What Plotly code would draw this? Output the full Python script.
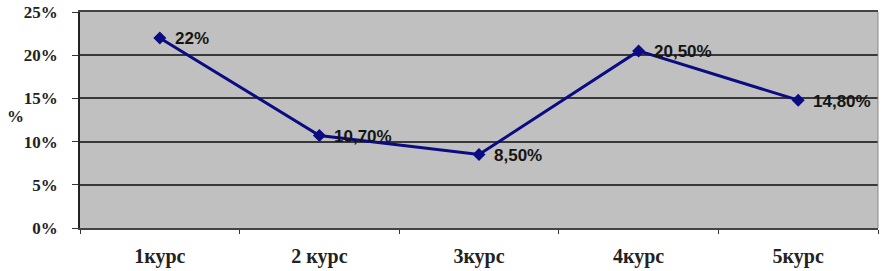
import plotly.graph_objects as go

categories = ["1курс", "2 курс", "3курс", "4курс", "5курс"]
values = [0.22, 0.107, 0.085, 0.205, 0.148]
labels = ["22%", "10,70%", "8,50%", "20,50%", "14,80%"]
y_ticks = [0, 0.05, 0.10, 0.15, 0.20, 0.25]
y_tick_text = ["0%", "5%", "10%", "15%", "20%", "25%"]

navy = "#0b0b82"

fig = go.Figure()
fig.add_trace(go.Scatter(
    x=categories, y=values,
    mode="lines+markers",
    line=dict(color=navy, width=3),
    marker=dict(symbol="diamond", size=10, color=navy),
    cliponaxis=False,
))

annotations = []
for c, v, t in zip(categories, values, labels):
    annotations.append(dict(
        x=c, y=v, xref="x", yref="y", text=t, showarrow=False,
        xanchor="left", yanchor="middle", xshift=13, yshift=-1,
        font=dict(family="Liberation Sans", size=17, color="#151515", weight="bold"),
    ))
annotations.append(dict(
    text="%", xref="paper", yref="paper", x=-0.094, y=0.515,
    xanchor="left", yanchor="middle", showarrow=False,
    font=dict(family="Liberation Serif", size=17, color="#222222", weight="bold"),
))

fig.update_layout(
    width=881, height=271,
    margin=dict(l=80, r=3, t=7, b=41),
    paper_bgcolor="white",
    plot_bgcolor="#c0c0c0",
    showlegend=False,
    xaxis=dict(
        type="category", tickson="boundaries", ticks="outside", ticklen=4,
        tickcolor="#333333", showgrid=False, showline=True, linecolor="#444444",
        linewidth=2, mirror=True, range=[-0.5, 4.5],
        tickfont=dict(family="Liberation Serif", size=20, color="#222222", weight="bold"),
        ticklabelstandoff=9, ticklabeloverflow="allow",
    ),
    yaxis=dict(
        range=[0, 0.25], tickvals=y_ticks, ticktext=y_tick_text,
        ticks="outside", ticklen=6, tickcolor="#333333",
        showgrid=True, gridcolor="#383838", gridwidth=2,
        showline=True, linecolor="#222222", linewidth=1.5,
        tickfont=dict(family="Liberation Serif", size=17, color="#222222", weight="bold"),
        zeroline=False, ticklabelstandoff=11, ticklabeloverflow="allow",
    ),
    annotations=annotations,
    shapes=[dict(type="line", xref="paper", yref="paper", x0=1, x1=1, y0=0, y1=1,
                 line=dict(color="#888888", width=1))],
)

fig.write_html("out.html", config={"displayModeBar": False},
               post_script="document.body.style.margin='0';")
